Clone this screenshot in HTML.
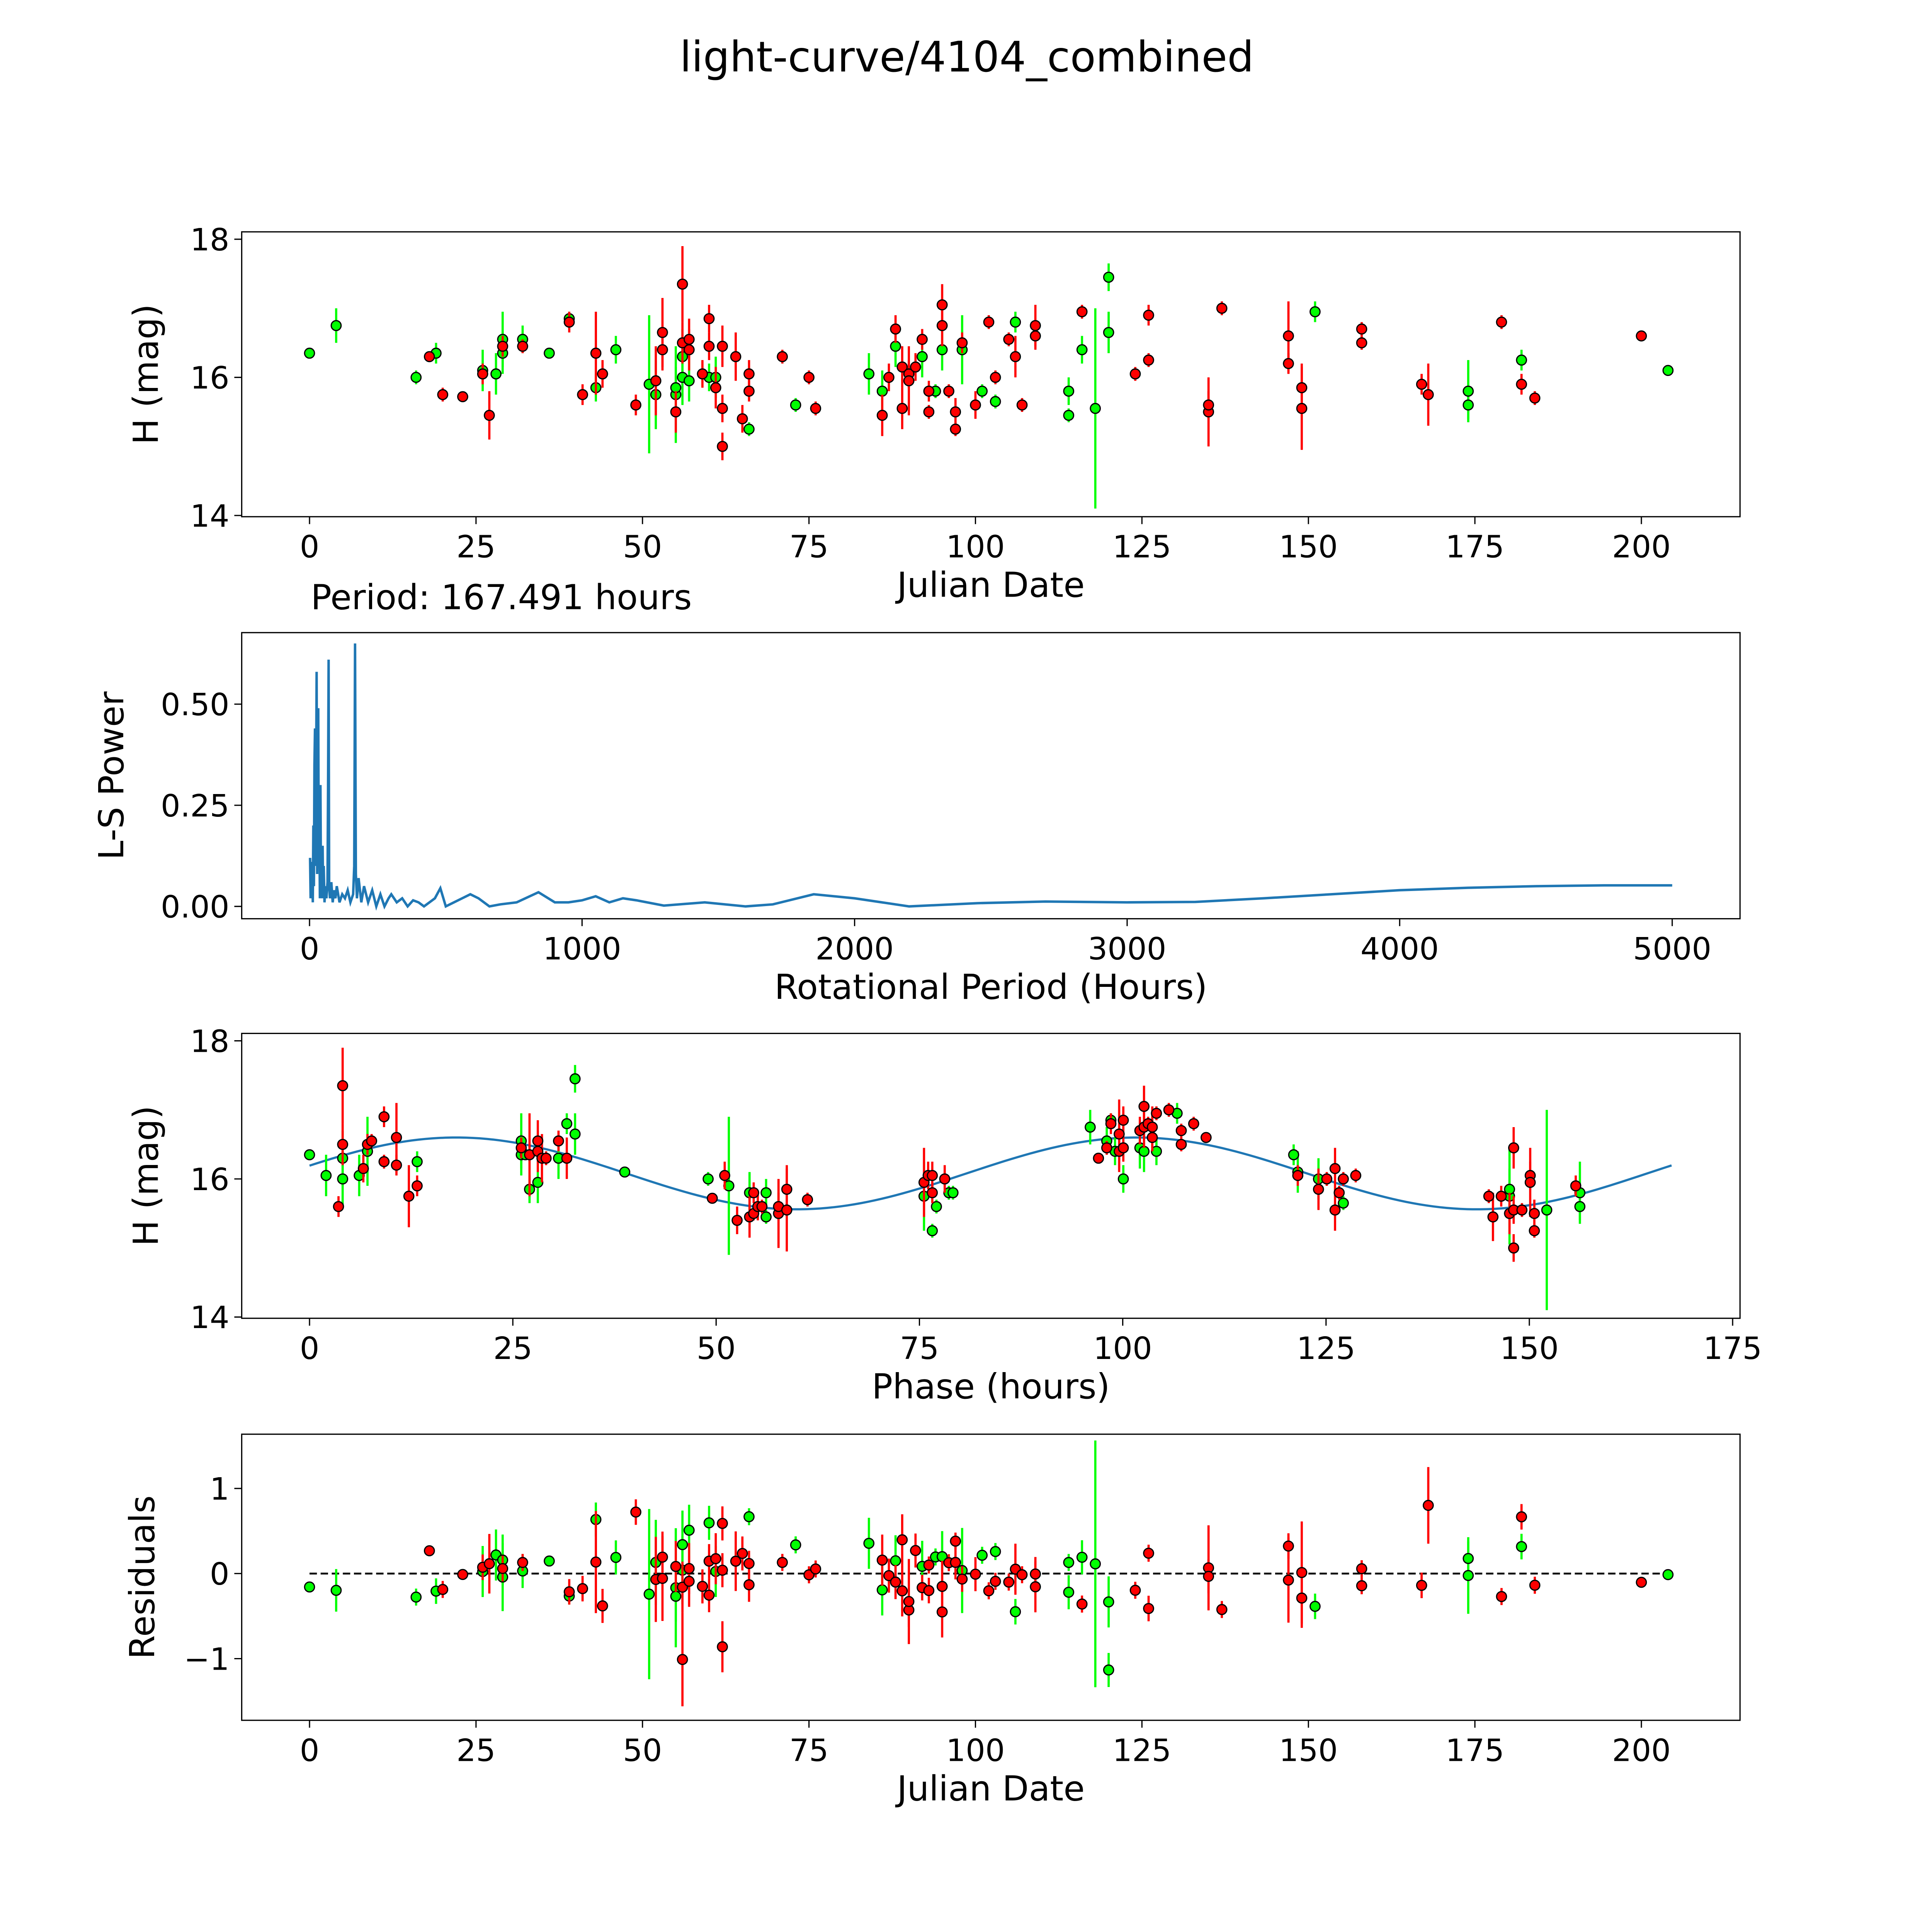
<!DOCTYPE html>
<html><head><meta charset="utf-8"><style>
html,body{margin:0;padding:0;background:#fff;overflow:hidden;width:5400px;height:5400px}
svg{display:block}
text{font-family:"DejaVu Sans","Liberation Sans",sans-serif;fill:#000}
</style></head><body>
<svg id="fig" width="5400" height="5400" viewBox="0 0 1692 1692" xmlns="http://www.w3.org/2000/svg">
<rect width="1692" height="1692" fill="#fff"/>
<text x="784" y="58" font-size="34" text-anchor="middle">light-curve/4104_combined</text>
<g id="root"></g>
</svg>
<script>
// ---- data ----
const greenDays=[0,4,16,19,26,28,29,29,32,36,39,43,46,51,52,55,55,56,56,57,60,61,66,73,84,86,88,92,94,95,98,101,103,106,114,114,116,118,120,120,151,174,174,182,204];
const greenMag=[16.35,16.75,16.0,16.35,16.1,16.05,16.35,16.55,16.55,16.35,16.85,15.85,16.4,15.9,15.75,15.75,15.85,16.3,16.0,15.95,16.0,16.0,15.25,15.6,16.05,15.8,16.45,16.3,15.8,16.4,16.4,15.8,15.65,16.8,15.8,15.45,16.4,15.55,17.45,16.65,16.95,15.8,15.6,16.25,16.1];
const greenErr=[0.05,0.25,0.1,0.15,0.3,0.3,0.3,0.4,0.2,0.05,0.1,0.2,0.2,1.0,0.5,0.7,0.3,0.4,0.4,0.3,0.2,0.3,0.1,0.1,0.3,0.3,0.3,0.3,0.1,0.3,0.5,0.1,0.1,0.15,0.2,0.1,0.2,1.45,0.2,0.3,0.15,0.45,0.2,0.15,0.05];
const redDays=[18,20,23,26,27,29,32,39,41,43,44,49,52,53,53,55,56,56,57,57,59,60,60,61,62,62,62,64,65,66,66,71,75,76,86,87,88,89,89,90,90,91,92,93,95,95,93,96,97,97,98,100,102,103,105,106,107,109,109,116,124,126,126,135,135,137,147,147,149,149,158,158,167,168,179,182,184,200];
const redMag=[16.3,15.75,15.72,16.05,15.45,16.45,16.45,16.8,15.75,16.35,16.05,15.6,15.95,16.4,16.65,15.5,17.35,16.5,16.55,16.4,16.05,16.85,16.45,15.85,16.45,15.55,15.0,16.3,15.4,15.8,16.05,16.3,16.0,15.55,15.45,16.0,16.7,15.55,16.15,16.05,15.95,16.15,16.55,15.8,17.05,16.75,15.5,15.8,15.25,15.5,16.5,15.6,16.8,16.0,16.55,16.3,15.6,16.75,16.6,16.95,16.05,16.9,16.25,15.5,15.6,17.0,16.6,16.2,15.55,15.85,16.5,16.7,15.9,15.75,16.8,15.9,15.7,16.6];
const redErr=[0.05,0.1,0.05,0.15,0.35,0.15,0.1,0.15,0.15,0.6,0.2,0.15,0.5,0.3,0.5,0.3,0.55,0.3,0.3,0.3,0.2,0.2,0.2,0.3,0.3,0.2,0.2,0.35,0.2,0.15,0.2,0.1,0.1,0.1,0.3,0.2,0.2,0.3,0.3,0.2,0.5,0.2,0.15,0.15,0.3,0.3,0.1,0.1,0.1,0.2,0.15,0.2,0.1,0.1,0.1,0.3,0.1,0.3,0.2,0.1,0.1,0.15,0.1,0.5,0.2,0.1,0.5,0.15,0.6,0.35,0.1,0.1,0.15,0.45,0.1,0.15,0.1,0.05];
const lsPeriods=[2,4,6,8,10,12,14,16,18,20,22,24,26,28,30,32,34,36,38,40,42,44,46,48,50,52,55,58,62,66,68,70,72,75,80,85,90,95,100,110,120,130,140,150,160,164,167,170,174,180,190,200,215,230,245,260,275,290,300,320,340,360,380,400,420,440,460,480,500,530,560,590,620,660,700,760,840,900,950,1000,1050,1100,1150,1200,1300,1450,1600,1700,1850,2000,2200,2450,2700,3000,3250,3500,3750,4000,4250,4500,4750,5000];
const lsPower=[0.12,0.02,0.11,0.03,0.09,0.01,0.2,0.05,0.35,0.44,0.1,0.3,0.58,0.08,0.4,0.49,0.1,0.2,0.02,0.3,0.05,0.1,0.02,0.15,0.03,0.1,0.01,0.05,0.02,0.06,0.3,0.61,0.05,0.02,0.06,0.01,0.04,0.02,0.05,0.01,0.03,0.02,0.04,0.01,0.03,0.1,0.65,0.08,0.02,0.07,0.01,0.05,0.01,0.04,0.0,0.03,0.0,0.02,0.03,0.01,0.02,0.0,0.015,0.01,0.0,0.01,0.02,0.045,0.0,0.01,0.02,0.03,0.02,0.0,0.005,0.01,0.035,0.01,0.01,0.015,0.025,0.01,0.02,0.015,0.002,0.01,0.0,0.005,0.03,0.02,0.0,0.008,0.012,0.01,0.011,0.02,0.03,0.04,0.046,0.05,0.052,0.052];
const period=167.491;
const modelMean=16.08, modelAmp=0.52, modelP=83.7, modelShift=-2.9;
const xTicksDay=[0,25,50,75,100,125,150,175,200];
const yTicksMag=[14,16,18];
const xTicksLS=[0,1000,2000,3000,4000,5000];
const yTicksLS=[0,0.25,0.5];
const yTickLSLabels=["0.00","0.25","0.50"];
const xTicksPhase=[0,25,50,75,100,125,150,175];
const yTicksRes=[-1,0,1];
const yTickResLabels=["\u22121","0","1"];

// ---- helpers ----
const NS="http://www.w3.org/2000/svg";
const root=document.getElementById('root');
function el(tag,attrs,parent){const e=document.createElementNS(NS,tag);for(const k in attrs)e.setAttribute(k,attrs[k]);(parent||root).appendChild(e);return e;}
function lin(d0,d1,p0,p1){return v=>p0+(v-d0)*(p1-p0)/(d1-d0);}
function model(ph){return modelMean+modelAmp*Math.sin(2*Math.PI*(ph-modelShift)/modelP);}
function phaseOf(d){return (d*24)%period;}

function panel(name,box,xs,ys,xt,xtl,yt,ytl,xlabel,ylabel,ylx){
  const g=el('g',{});
  
  
  const fr=el('rect',{x:box[0],y:box[1],width:box[2]-box[0],height:box[3]-box[1],fill:'none',stroke:'#000','stroke-width':1},g);
  
  
  xt.forEach((v,i)=>{const x=xs(v);
    el('line',{x1:x,x2:x,y1:box[3],y2:box[3]+6,stroke:'#000','stroke-width':1},g);
    const t=el('text',{x:x,y:box[3]+33,'font-size':25,'text-anchor':'middle'},g);t.textContent=xtl[i];
    
    });
  yt.forEach((v,i)=>{const y=ys(v);
    el('line',{x1:box[0]-6,x2:box[0],y1:y,y2:y,stroke:'#000','stroke-width':1},g);
    const t=el('text',{x:box[0]-10,y:y+9,'font-size':25,'text-anchor':'end'},g);t.textContent=ytl[i];
    
    });
  const xl=el('text',{x:(box[0]+box[2])/2,y:box[3]+65,'font-size':28,'text-anchor':'middle'},g);xl.textContent=xlabel;
  
  
  const cy=(box[1]+box[3])/2;
  const yl=el('text',{x:ylx,y:cy,'font-size':28,'text-anchor':'middle',transform:`rotate(-90 ${ylx} ${cy})`},g);yl.textContent=ylabel;
  
  
  return g;
}
function points(g,xs,ys,X,Y,E,color,name){
  for(let i=0;i<X.length;i++){
    const x=xs(X[i]);
    const l=el('line',{x1:x,x2:x,y1:ys(Y[i]-E[i]),y2:ys(Y[i]+E[i]),stroke:color,'stroke-width':1.8},g);
    
    
  }
  for(let i=0;i<X.length;i++){
    const c=el('circle',{cx:xs(X[i]),cy:ys(Y[i]),r:4,fill:color,stroke:'#000','stroke-width':1},g);
    
    
  }
}
const dayLabels=xTicksDay.map(String);

// ---- panel 1 ----
{const xs=lin(0,200,251,1331), ys=lin(14,18,418,194);
 const g=panel('light-curve-panel',[196,188,1411,419],xs,ys,xTicksDay,dayLabels,yTicksMag,yTicksMag.map(String),'Julian Date','H (mag)',128);
 points(g,xs,ys,greenDays,greenMag,greenErr,'#00ff00','green-band');
 points(g,xs,ys,redDays,redMag,redErr,'#ff0000','red-band');
 const t=el('text',{x:252,y:494,'font-size':28},g);t.textContent='Period: '+period.toFixed(3)+' hours';
 
 }

// ---- panel 2 ----
{const xs=lin(0,5000,251,1356), ys=lin(0,0.5,735,571);
 const g=panel('periodogram-panel',[196,513,1411,745],xs,ys,xTicksLS,xTicksLS.map(String),yTicksLS,yTickLSLabels,'Rotational Period (Hours)','L-S Power',100);
 const pts=lsPeriods.map((p,i)=>xs(p).toFixed(2)+','+ys(lsPower[i]).toFixed(2)).join(' ');
 const pl=el('polyline',{points:pts,fill:'none',stroke:'#1f77b4','stroke-width':2},g);
 
 }

// ---- panel 3 ----
{const xs=lin(0,175,251,1405), ys=lin(14,18,1068,844);
 const g=panel('phase-panel',[196,838,1411,1069],xs,ys,xTicksPhase,xTicksPhase.map(String),yTicksMag,yTicksMag.map(String),'Phase (hours)','H (mag)',128);
 let pts=[];for(let i=0;i<=200;i++){const p=period*i/200;pts.push(xs(p).toFixed(2)+','+ys(model(p)).toFixed(2));}
 const pl=el('polyline',{points:pts.join(' '),fill:'none',stroke:'#1f77b4','stroke-width':1.8},g);
 
 
 points(g,xs,ys,greenDays.map(phaseOf),greenMag,greenErr,'#00ff00','green-phase');
 points(g,xs,ys,redDays.map(phaseOf),redMag,redErr,'#ff0000','red-phase');}

// ---- panel 4 ----
{const xs=lin(0,200,251,1331), ys=lin(-1,1,1345,1207);
 const g=panel('residuals-panel',[196,1163,1411,1395],xs,ys,xTicksDay,dayLabels,yTicksRes,yTickResLabels,'Julian Date','Residuals',125);
 const z=el('line',{x1:xs(0),x2:xs(204),y1:ys(0),y2:ys(0),stroke:'#000','stroke-width':1.5,'stroke-dasharray':'6,3'},g);
 
 
 points(g,xs,ys,greenDays,greenMag.map((m,i)=>model(phaseOf(greenDays[i]))-m),greenErr,'#00ff00','green-residual');
 points(g,xs,ys,redDays,redMag.map((m,i)=>model(phaseOf(redDays[i]))-m),redErr,'#ff0000','red-residual');}
</script>
</body></html>
